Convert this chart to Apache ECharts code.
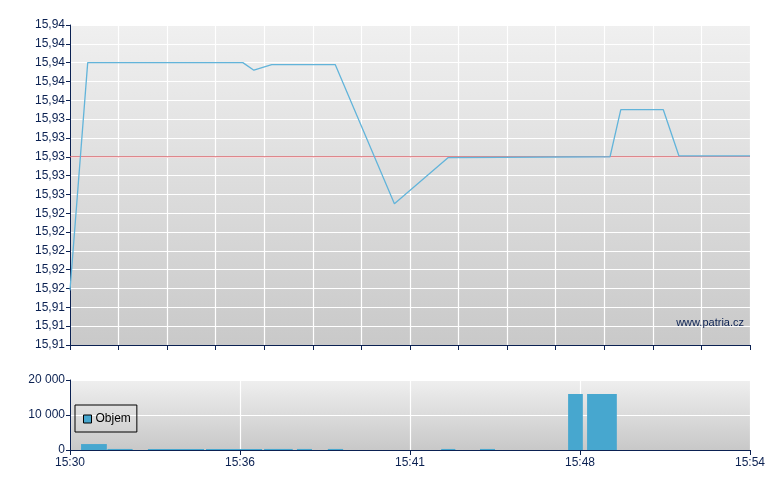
<!DOCTYPE html>
<html>
<head>
<meta charset="utf-8">
<script src="https://cdn.jsdelivr.net/npm/echarts@6/dist/echarts.min.js"></script>
<style>
html,body{margin:0;padding:0;background:#fff;}
#c{width:780px;height:490px;}
</style>
</head>
<body>
<div id="c"></div>
<script>
// Price line: time in minutes after 15:30, price
var priceTimes  = [0, 0.625, 6.10, 6.49, 7.12, 9.36, 11.45, 13.34, 19.06, 19.44, 20.94, 21.49, 24];
var priceValues = [15.9158, 15.9400, 15.9400, 15.9392, 15.9398, 15.9398, 15.9250, 15.9299, 15.9300, 15.9350, 15.9350, 15.9301, 15.9301];
var refPrice = 15.93;
var sessionStart = 0, sessionEnd = 24;

// Volume bars: start/end time in minutes after 15:30, volume
var volStart  = [0.39, 1.32, 2.75, 4.80, 6.85, 8.01, 9.10, 13.10, 14.47, 17.58, 18.25];
var volEnd    = [1.30, 2.21, 4.73, 6.78, 7.86, 8.54, 9.64, 13.60, 15.00, 18.10, 19.30];
var volValues = [1700, 300, 300, 300, 300, 300, 300, 300, 300, 16000, 16000];

// Tick labels
var yTickLabels = ['15,91','15,91','15,91','15,92','15,92','15,92','15,92','15,92','15,93','15,93','15,93','15,93','15,93','15,94','15,94','15,94','15,94','15,94'];
var volTickLabels = ['0', '10 000', '20 000'];
var xTickLabels = ['15:30', '15:36', '15:41', '15:48', '15:54'];

var navy = '#0b2152';
var font = 'Liberation Sans, Arial, sans-serif';

function grad(top, bottom) {
  return {type: 'linear', x: 0, y: 0, x2: 0, y2: 1,
    colorStops: [{offset: 0, color: top}, {offset: 1, color: bottom}]};
}

var priceData = priceTimes.map(function (t, i) { return [t, priceValues[i]]; });
var refData = [[sessionStart, refPrice], [sessionEnd, refPrice]];
var volData = volStart.map(function (s, i) { return [s, volEnd[i], volValues[i]]; });

var chart = echarts.init(document.getElementById('c'), null, {renderer: 'canvas'});
chart.setOption({
  animation: false,
  backgroundColor: '#ffffff',
  textStyle: {fontFamily: font},
  grid: [
    {left: 70, top: 25, width: 680, height: 320, show: true, borderWidth: 0,
     backgroundColor: grad('#f0f0f0', '#c9c9c9')},
    {left: 70, top: 380, width: 680, height: 70, show: true, borderWidth: 0,
     backgroundColor: grad('#efefef', '#c8c8c8')}
  ],
  xAxis: [
    {type: 'value', gridIndex: 0, min: 0, max: 24, interval: 24 / 14,
     axisLine: {show: true, onZero: false, lineStyle: {color: navy, width: 1}},
     axisTick: {show: true, length: 5, lineStyle: {color: navy}},
     axisLabel: {show: false},
     splitLine: {show: true, lineStyle: {color: '#ffffff', width: 1.2}}},
    {type: 'value', gridIndex: 1, min: 0, max: 24, interval: 6,
     axisLine: {show: true, onZero: false, lineStyle: {color: navy, width: 1}},
     axisTick: {show: true, length: 5, lineStyle: {color: navy}},
     axisLabel: {show: true, color: navy, fontSize: 12, fontFamily: font, margin: 7,
       formatter: function (v) { return xTickLabels[Math.round(v / 6)]; }},
     splitLine: {show: true, lineStyle: {color: '#ffffff', width: 1.2}}}
  ],
  yAxis: [
    {type: 'value', gridIndex: 0, min: 15.91, max: 15.944, interval: 0.002,
     axisLine: {show: true, onZero: false, lineStyle: {color: navy, width: 1}},
     axisTick: {show: true, length: 4, lineStyle: {color: navy}},
     axisLabel: {show: true, color: navy, fontSize: 12, fontFamily: font, margin: 5,
       showMinLabel: true, showMaxLabel: true,
       formatter: function (v) { return yTickLabels[Math.round((v - 15.91) / 0.002)]; }},
     splitLine: {show: true, lineStyle: {color: '#ffffff', width: 1.2}}},
    {type: 'value', gridIndex: 1, min: 0, max: 20000, interval: 10000,
     axisLine: {show: true, onZero: false, lineStyle: {color: navy, width: 1}},
     axisTick: {show: true, length: 4, lineStyle: {color: navy}},
     axisLabel: {show: true, color: navy, fontSize: 12, fontFamily: font, margin: 5,
       formatter: function (v) { return volTickLabels[Math.round(v / 10000)]; }},
     splitLine: {show: true, lineStyle: {color: '#ffffff', width: 1.2}}}
  ],
  legend: {
    show: true, left: 75, top: 405, orient: 'vertical',
    padding: [8, 6, 7, 8], borderColor: '#000000', borderWidth: 1, borderRadius: 0,
    backgroundColor: 'transparent', itemWidth: 8, itemHeight: 8, itemGap: 4,
    icon: 'rect',
    textStyle: {color: '#000000', fontSize: 12, fontFamily: font, padding: [0, 0, 0, -1]},
    data: [{name: 'Objem', itemStyle: {color: '#47a7cf', borderColor: '#000000', borderWidth: 1}}]
  },
  graphic: [
    {type: 'text', right: 36, top: 317, z: 10,
     style: {text: 'www.patria.cz', fill: navy, font: '11px ' + font}}
  ],
  series: [
    {type: 'line', name: 'Ref', xAxisIndex: 0, yAxisIndex: 0, data: refData,
     showSymbol: false, symbol: 'none', z: 2, silent: true,
     lineStyle: {color: '#dc6a70', width: 1.2}},
    {type: 'line', name: 'Cena', xAxisIndex: 0, yAxisIndex: 0, data: priceData,
     showSymbol: false, symbol: 'none', z: 3,
     lineStyle: {color: '#62b4da', width: 1.3}},
    {type: 'custom', name: 'Objem', xAxisIndex: 1, yAxisIndex: 1, data: volData,
     encode: {x: [0, 1], y: 2},
     itemStyle: {color: '#47a7cf'},
     renderItem: function (params, api) {
       var p0 = api.coord([api.value(0), api.value(2)]);
       var p1 = api.coord([api.value(1), 0]);
       return {type: 'rect',
         shape: {x: p0[0], y: p0[1], width: p1[0] - p0[0], height: p1[1] - p0[1]},
         style: {fill: '#47a7cf'}};
     }}
  ]
});
</script>
</body>
</html>
